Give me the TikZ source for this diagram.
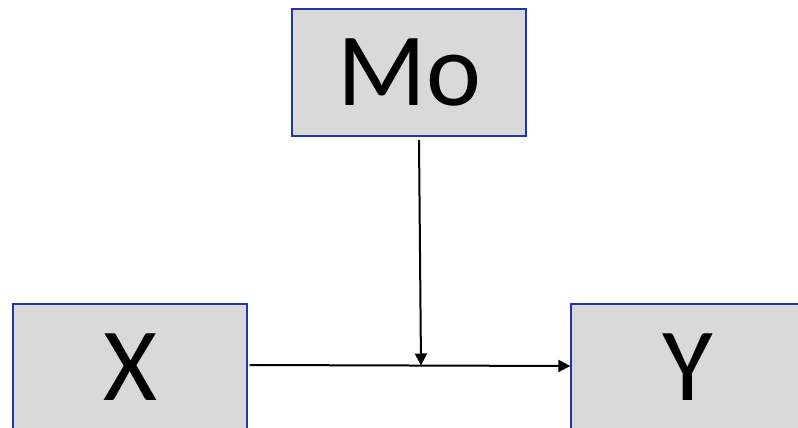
\documentclass[tikz,border=0pt]{standalone}
\usepackage{fontspec}
\setmainfont{Carlito}
\usetikzlibrary{arrows.meta}
\definecolor{boxfill}{RGB}{217,217,217}
\definecolor{boxline}{RGB}{30,55,175}
\begin{document}
\begin{tikzpicture}[x=1pt,y=-1pt,
  varbox/.style={draw=boxline,line width=1.3pt,fill=boxfill,minimum width=234pt,minimum height=127pt,inner sep=0pt,font=\fontsize{104}{106}\selectfont},
  conn/.style={line width=2pt,-{Triangle[length=12pt,width=12pt]}}]
\useasboundingbox (0,0) rectangle (798,428);
\clip (0,0) rectangle (798,428);
\node[varbox] (mo) at (409,72.5) {Mo};
\node[varbox] (x) at (130,367.5) {X};
\node[varbox] (y) at (688,367.5) {Y};
\coordinate (mid) at (421,365.5);
\draw[conn] ([xshift=2pt]x.east |- 0,365) -- (y.west |- 0,366);
\draw[conn] (419,140) -- (mid);
\end{tikzpicture}
\end{document}
